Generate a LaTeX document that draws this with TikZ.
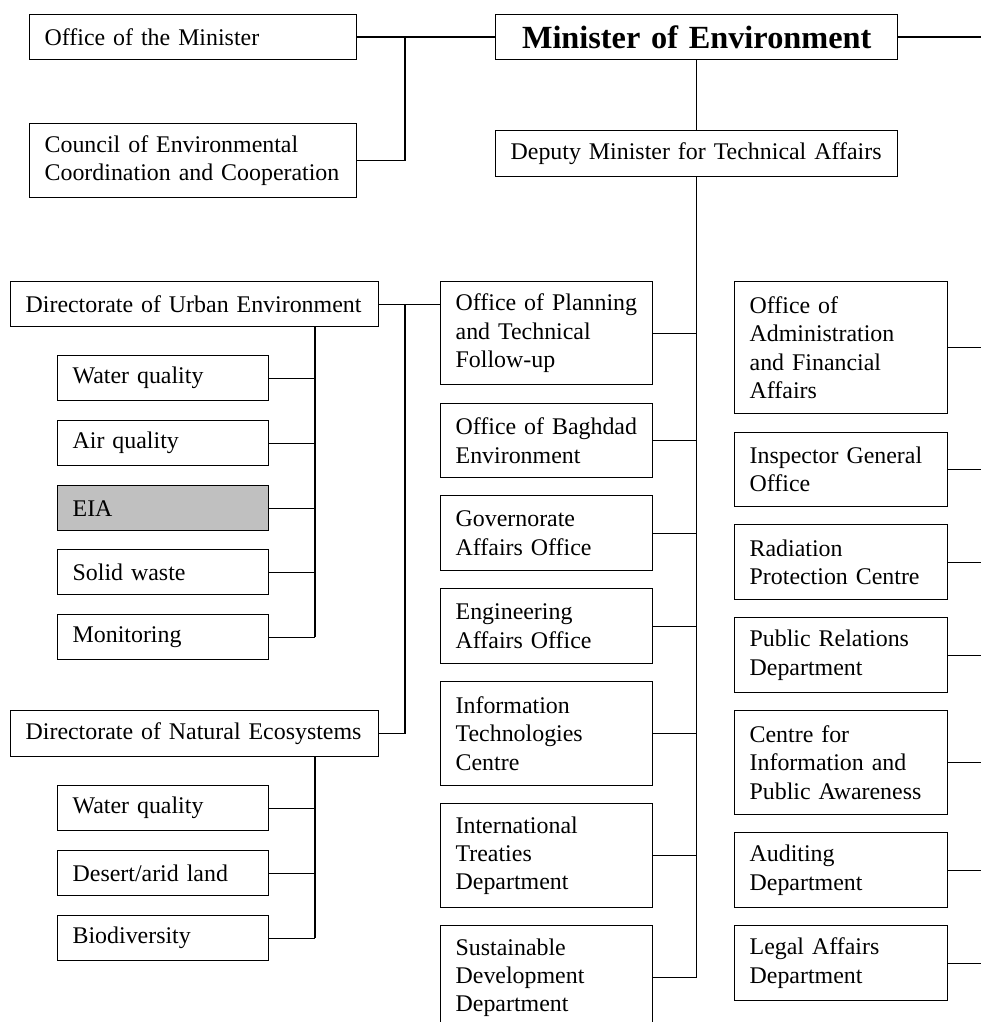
\documentclass[tikz,border=0pt]{standalone}
\usepackage{fontspec}
\setmainfont{Liberation Serif}
\usepackage{tikz}
\usetikzlibrary{positioning, calc}
\definecolor{oline}{HTML}{000000}
\definecolor{ogray}{HTML}{C0C0C0}
\newcommand{\orgtext}{\fontsize{23.9pt}{28.3pt}\selectfont}
\newcommand{\orghead}{\fontsize{32.3pt}{36pt}\selectfont\bfseries}
\tikzset{
  obox/.style={draw=oline, line width=1.3pt, anchor=north west, font=\orgtext,
               inner xsep=15pt, inner ysep=0pt, align=left,
               execute at begin node={\hyphenpenalty=10000\exhyphenpenalty=10000}},
  topbox/.style={obox, text width=297pt},
  headbox/.style={obox, text width=372pt},
  dirbox/.style={obox, text width=338pt, minimum height=45pt},
  subbox/.style={obox, text width=181pt, minimum height=45pt},
  midbox/.style={obox, text width=182pt},
  sidebox/.style={obox, text width=183pt},
  link/.style={draw=oline, line width=1.3pt},
}

\begin{document}
\begin{tikzpicture}[x=1pt, y=-1pt]
  \useasboundingbox (0,0) rectangle (981,1022);
  \coordinate (edge)  at (981,0);
  \coordinate (jTop)  at (405,37);
  \coordinate (spSub) at (315,0);

  %% ── top row ──
  \node[topbox, minimum height=45pt] (office) at (29,14) {Office of the Minister};
  \node[topbox, minimum height=74pt] (council) at (29,123)
       {Council~of~Environmental\\Coordination~and~Cooperation};
  \node[headbox, minimum height=45pt, align=center, font=\orghead] (minister) at (495,14)
       {Minister of Environment};
  \node[headbox, minimum height=46pt] (deputy) at (495,130)
       {Deputy~Minister~for~Technical~Affairs};

  \draw[link] (office.east) -- (minister.west);
  \draw[link] (council.east) -| (jTop);
  \draw[link] (minister.east) -- (minister.east -| edge);
  \draw[link] (minister.south) -- (deputy.north);

  %% ── left: directorates ──
  \node[dirbox] (urban) at (10,281) {Directorate~of~Urban~Environment};
  \node[subbox] (wqa)   at (57,355) {Water quality};
  \node[subbox] (air)   at (57,420) {Air quality};
  \node[subbox, fill=ogray] (eia) at (57,485) {EIA};
  \node[subbox] (solid) at (57,549) {Solid waste};
  \node[subbox] (mon)   at (57,614) {Monitoring};

  \node[dirbox, minimum height=46pt] (natural) at (10,710) {Directorate~of~Natural~Ecosystems};
  \node[subbox] (wqb)    at (57,785) {Water quality};
  \node[subbox] (desert) at (57,850) {Desert/arid land};
  \node[subbox] (bio)    at (57,915) {Biodiversity};

  %% ── middle column ──
  \node[midbox, minimum height=103pt] (plan)    at (440,281) {Office~of~Planning\\and~Technical\\Follow-up};
  \node[midbox, minimum height=74pt]  (baghdad) at (440,403) {Office~of~Baghdad\\Environment};
  \node[midbox, minimum height=75pt]  (gov)     at (440,495) {Governorate\\Affairs~Office};
  \node[midbox, minimum height=75pt]  (eng)     at (440,588) {Engineering\\Affairs~Office};
  \node[midbox, minimum height=104pt] (itc)     at (440,681) {Information\\Technologies\\Centre};
  \node[midbox, minimum height=104pt] (treaty)  at (440,803) {International\\Treaties\\Department};
  \node[midbox, minimum height=104pt] (sust)    at (440,925) {Sustainable\\Development\\Department};

  %% ── right column ──
  \node[sidebox, minimum height=132pt] (admin) at (734,281) {Office~of\\Administration\\and~Financial\\Affairs};
  \node[sidebox, minimum height=74pt]  (insp)  at (734,432) {Inspector~General\\Office};
  \node[sidebox, minimum height=75pt]  (rad)   at (734,524) {Radiation\\Protection~Centre};
  \node[sidebox, minimum height=75pt]  (pr)    at (734,617) {Public~Relations\\Department};
  \node[sidebox, minimum height=104pt] (cpa)   at (734,710) {Centre~for\\Information~and\\Public~Awareness};
  \node[sidebox, minimum height=75pt]  (audit) at (734,832) {Auditing\\Department};
  \node[sidebox, minimum height=75pt]  (legal) at (734,925) {Legal~Affairs\\Department};

  %% ── connectors ──
  \draw[link] (deputy.south) -- (deputy.south |- sust.east);
  \foreach \n in {plan,baghdad,gov,eng,itc,treaty,sust}
    \draw[link] (\n.east) -- (\n.east -| deputy.south);
  \foreach \n in {admin,insp,rad,pr,cpa,audit,legal}
    \draw[link] (\n.east) -- (\n.east -| edge);

  \draw[link] (urban.east) -- (urban.east -| plan.west);
  \draw[link] (natural.east) -| (urban.east -| jTop);
  \draw[link] (urban.south -| spSub) -- (mon.east -| spSub);
  \foreach \n in {wqa,air,eia,solid,mon}
    \draw[link] (\n.east) -- (\n.east -| spSub);
  \draw[link] (natural.south -| spSub) -- (bio.east -| spSub);
  \foreach \n in {wqb,desert,bio}
    \draw[link] (\n.east) -- (\n.east -| spSub);
\end{tikzpicture}
\end{document}
